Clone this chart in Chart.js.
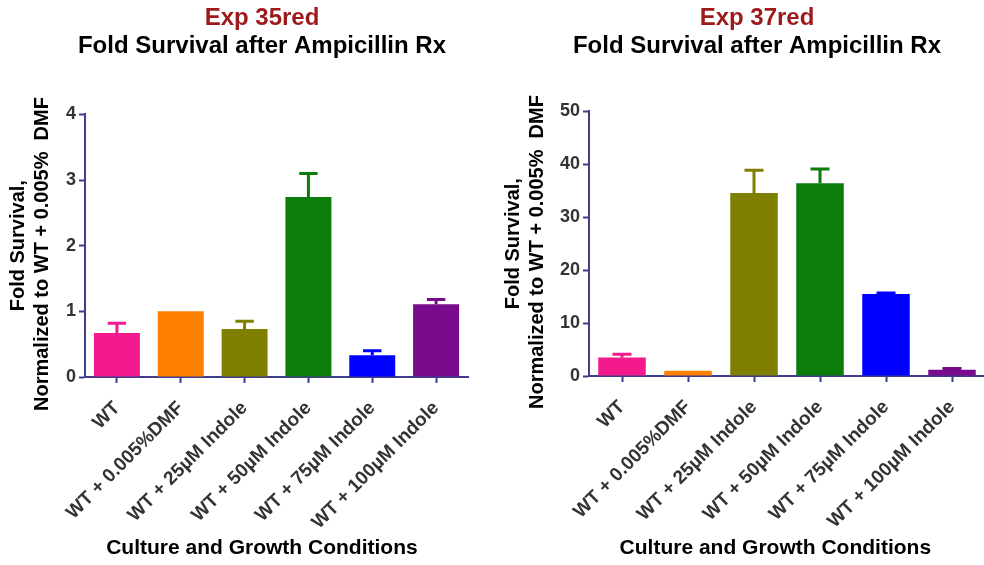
<!DOCTYPE html>
<html>
<head>
<meta charset="utf-8">
<script src="https://cdn.jsdelivr.net/npm/chart.js@4.4.0/dist/chart.umd.min.js"></script>
<style>
    html, body { margin: 0; padding: 0; background: #fff; overflow: hidden; }
    .box { position: absolute; top: 0; height: 565px; }
    #leftBox { left: 0; width: 524px; }
    #rightBox { left: 500px; width: 514px; }
</style>
</head>
<body>
<div class="box" id="rightBox"><canvas id="chart37"></canvas></div>
<div class="box" id="leftBox"><canvas id="chart35"></canvas></div>
<script>
var conditions = ["WT", "WT + 0.005%DMF", "WT + 25\u00b5M Indole", "WT + 50\u00b5M Indole", "WT + 75\u00b5M Indole", "WT + 100\u00b5M Indole"];
var barColors = ["#f21a8c", "#ff8000", "#808000", "#0a7d0a", "#0000ff", "#780a8c"];

// Exp 35red
var exp35Mean = [0.67, 1.0, 0.73, 2.74, 0.33, 1.11];
var exp35Err = [0.15, 0, 0.12, 0.36, 0.07, 0.07];
var exp35Ticks = [0, 1, 2, 3, 4];

// Exp 37red
var exp37Mean = [3.5, 1.0, 34.6, 36.4, 15.5, 1.2];
var exp37Err = [0.6, 0, 4.3, 2.7, 0.2, 0.2];
var exp37Ticks = [0, 10, 20, 30, 40, 50];

var axisColor = "#3d3d8c";
var textColor = "#333333";
var fontFam = "Liberation Sans, Arial";

// upper error bars, drawn with the bar colour
var errorBars = {
    id: "errorBars",
    afterDatasetsDraw: function (chart) {
        var ctx = chart.ctx;
        var yScale = chart.scales.y;
        var errs = chart.options.plugins.errorBars.errors;
        var meta = chart.getDatasetMeta(0);
        var ds = chart.data.datasets[0];
        ctx.save();
        meta.data.forEach(function (bar, i) {
            if (!errs[i]) return;
            var top = yScale.getPixelForValue(ds.data[i] + errs[i]);
            var cap = bar.width * 0.4 / 2;
            ctx.strokeStyle = ds.backgroundColor[i];
            ctx.lineWidth = 3;
            ctx.beginPath();
            ctx.moveTo(bar.x, bar.y);
            ctx.lineTo(bar.x, top);
            ctx.moveTo(bar.x - cap, top);
            ctx.lineTo(bar.x + cap, top);
            ctx.stroke();
        });
        ctx.restore();
    }
};

// trailing spaces nudge the centred titles to where they sit in the original
function makeChart(id, titleText, means, errs, tickVals, leftW, rightW, subPad, xH, yTitlePad, xPadSpaces) {
    var ctx = document.getElementById(id).getContext("2d");
    return new Chart(ctx, {
        type: "bar",
        data: {
            labels: conditions,
            datasets: [{
                data: means,
                backgroundColor: barColors,
                borderWidth: 0,
                categoryPercentage: 1.0,
                barPercentage: 0.72
            }]
        },
        plugins: [errorBars],
        options: {
            responsive: true,
            maintainAspectRatio: false,
            animation: false,
            layout: { padding: 0 },
            plugins: {
                legend: { display: false },
                tooltip: { enabled: false },
                title: {
                    display: true,
                    text: titleText,
                    color: "#9c1a1a",
                    font: { family: fontFam, size: 24, weight: "bold", lineHeight: 1.2 },
                    padding: { top: 4, bottom: 0 }
                },
                subtitle: {
                    display: true,
                    text: "Fold Survival after Ampicillin Rx",
                    color: "#000",
                    font: { family: fontFam, size: 24, weight: "bold", lineHeight: 1.15 },
                    padding: { top: 0, bottom: subPad }
                },
                errorBars: { errors: errs }
            },
            scales: {
                x: {
                    grid: { display: true, offset: false, drawOnChartArea: false, color: axisColor, tickLength: 6, tickWidth: 2 },
                    border: { display: true, color: axisColor, width: 2 },
                    ticks: {
                        color: textColor,
                        autoSkip: false,
                        minRotation: 45,
                        maxRotation: 45,
                        padding: 14,
                        font: { family: fontFam, size: 19, weight: "bold" }
                    },
                    title: {
                        display: true,
                        text: "Culture and Growth Conditions" + " ".repeat(xPadSpaces),
                        color: "#000",
                        font: { family: fontFam, size: 21, weight: "bold", lineHeight: 1.2 },
                        padding: { top: 0, bottom: 4 }
                    },
                    afterFit: function (s) { s.height = xH; }
                },
                y: {
                    min: tickVals[0],
                    max: tickVals[tickVals.length - 1],
                    afterBuildTicks: function (s) {
                        s.ticks = tickVals.map(function (v) { return { value: v }; });
                    },
                    grid: { display: true, drawOnChartArea: false, color: axisColor, tickLength: 6, tickWidth: 2 },
                    border: { display: true, color: axisColor, width: 2 },
                    ticks: {
                        color: textColor,
                        padding: 3,
                        font: { family: fontFam, size: 18, weight: "bold" }
                    },
                    title: {
                        display: true,
                        text: ["Fold Survival,", "Normalized to WT + 0.005%  DMF   "],
                        color: "#000",
                        font: { family: fontFam, size: 20, weight: "bold", lineHeight: 1.2 },
                        padding: { top: yTitlePad, bottom: 0 }
                    },
                    afterFit: function (s) { s.width = leftW; }
                },
                // empty right-hand axis that only reserves room
                yR: {
                    position: "right",
                    display: true,
                    grid: { display: false },
                    border: { display: false },
                    ticks: { display: false },
                    afterFit: function (s) { s.width = rightW; }
                }
            }
        }
    });
}

let chart35 = makeChart("chart35", "Exp 35red", exp35Mean, exp35Err, exp35Ticks, 85, 56, 54, 188, 6, 5);
let chart37 = makeChart("chart37", "Exp 37red", exp37Mean, exp37Err, exp37Ticks, 89, 29, 51, 189, 1, 4);
</script>
</body>
</html>
